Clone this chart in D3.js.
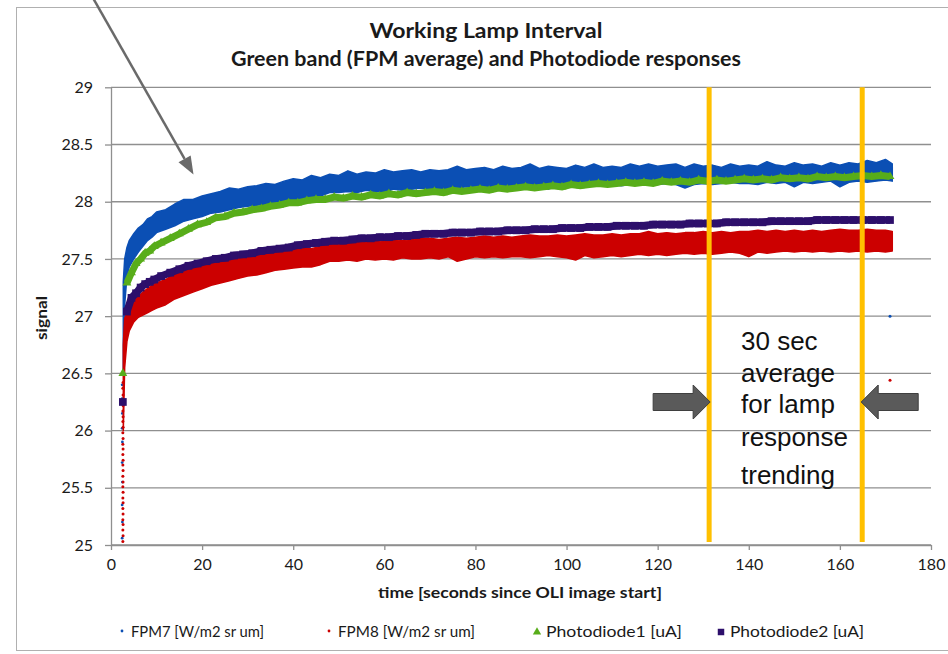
<!DOCTYPE html>
<html><head><meta charset="utf-8">
<script src="https://cdn.jsdelivr.net/npm/d3@7"></script>
<style>body{margin:0;background:#fff}svg{display:block}</style>
</head><body><svg id="c" width="948" height="654"></svg>
<script>
// ---------- data ----------
const titleLines = ["Working Lamp Interval", "Green band (FPM average) and Photodiode responses"];
const xTicks = [0,20,40,60,80,100,120,140,160,180];
const xTickLabels = ["0","20","40","60","80","100","120","140","160","180"];
const yTicks = [25,25.5,26,26.5,27,27.5,28,28.5,29];
const yTickLabels = ["25","25.5","26","26.5","27","27.5","28","28.5","29"];
const seriesNames = ["FPM7 [W/m2 sr um]","FPM8 [W/m2 sr um]","Photodiode1 [uA]","Photodiode2 [uA]"];

// FPM detectors: noisy dense samples, read as lower / upper envelope of the cloud
const fpmTime = [2.7,3,3.5,4,5,6,7,8,9,
 10,12,14,16,18,20,22,24,26,28,30,32,34,36,38,40,42,44,46,48,50,52,54,56,58,60,62,64,66,68,
 70,72,74,76,78,80,82,84,86,88,90,92,94,96,98,100,102,104,106,108,110,112,114,116,118,120,122,124,126,128,
 130,132,134,136,138,140,142,144,146,148,150,152,154,156,158,160,162,164,166,168,170,171.5];
const fpm7Hi = [27.30,27.50,27.60,27.66,27.72,27.77,27.80,27.85,27.87,
 27.91,27.93,27.98,28.02,28.02,28.05,28.07,28.09,28.12,28.11,
 28.13,28.14,28.16,28.15,28.18,28.20,28.19,28.23,28.21,28.24,
 28.23,28.27,28.24,28.26,28.25,28.28,28.26,28.27,28.28,28.26,
 28.28,28.27,28.28,28.31,28.28,28.29,28.30,28.28,28.31,28.29,
 28.30,28.33,28.29,28.31,28.30,28.29,28.32,28.30,28.33,28.30,
 28.31,28.30,28.33,28.31,28.33,28.31,28.32,28.33,28.30,28.33,
 28.31,28.32,28.30,28.33,28.31,28.32,28.31,28.35,28.32,28.31,
 28.34,28.32,28.33,28.31,28.34,28.32,28.34,28.33,28.36,28.34,
 28.37,28.33];
const fpm7Lo = [26.50,27.10,27.35,27.43,27.50,27.56,27.61,27.66,27.69,
 27.73,27.76,27.79,27.83,27.85,27.87,27.90,27.91,27.93,27.95,
 27.96,27.97,27.98,27.99,28.00,28.01,28.03,28.04,28.05,28.08,
 28.08,28.09,28.08,28.10,28.09,28.08,28.11,28.10,28.11,28.12,
 28.11,28.12,28.11,28.12,28.13,28.12,28.13,28.12,28.13,28.14,
 28.13,28.14,28.13,28.11,28.14,28.13,28.15,28.14,28.15,28.14,
 28.15,28.14,28.15,28.16,28.15,28.15,28.16,28.15,28.12,28.15,
 28.16,28.15,28.16,28.17,28.16,28.16,28.15,28.17,28.16,28.17,
 28.13,28.17,28.16,28.17,28.18,28.13,28.17,28.18,28.17,28.18,
 28.19,28.18];
const fpm8Hi = [26.75,26.98,27.03,27.08,27.14,27.17,27.21,27.24,27.27,
 27.29,27.32,27.37,27.40,27.42,27.44,27.46,27.48,27.50,27.51,
 27.53,27.54,27.55,27.56,27.57,27.58,27.59,27.59,27.61,27.63,
 27.64,27.64,27.65,27.66,27.65,27.66,27.67,27.66,27.67,27.68,
 27.68,27.67,27.68,27.69,27.68,27.69,27.70,27.69,27.70,27.69,
 27.70,27.71,27.70,27.70,27.71,27.70,27.71,27.72,27.71,27.71,
 27.72,27.71,27.72,27.72,27.74,27.72,27.73,27.72,27.73,27.73,
 27.74,27.73,27.74,27.73,27.74,27.74,27.75,27.74,27.75,27.74,
 27.75,27.74,27.75,27.74,27.75,27.76,27.75,27.75,27.76,27.75,
 27.75,27.74];
const fpm8Lo = [26.00,26.55,26.78,26.87,26.95,26.99,27.01,27.03,27.05,
 27.07,27.10,27.15,27.18,27.21,27.24,27.27,27.29,27.31,27.33,
 27.35,27.36,27.38,27.40,27.41,27.42,27.43,27.43,27.45,27.48,
 27.48,27.49,27.48,27.50,27.49,27.50,27.49,27.51,27.50,27.50,
 27.51,27.50,27.52,27.48,27.50,27.52,27.51,27.52,27.51,27.52,
 27.52,27.51,27.52,27.53,27.52,27.51,27.49,27.53,27.51,27.52,
 27.53,27.52,27.53,27.54,27.53,27.54,27.53,27.54,27.55,27.54,
 27.55,27.54,27.55,27.56,27.55,27.52,27.56,27.55,27.56,27.57,
 27.56,27.57,27.56,27.57,27.56,27.57,27.56,27.57,27.56,27.57,
 27.56,27.57];
// lamp turn-on transient samples (FPM)
const fpm7StartTime = [2.45,2.45,2.5,2.45,2.5,2.45,2.5,2.45,2.5,2.45];
const fpm7StartVal  = [26.40,26.28,26.15,26.02,25.90,25.72,25.55,25.35,25.20,25.06];
const fpm8StartTime = [2.65,2.6,2.65,2.6,2.65,2.6,2.65,2.6,2.65,2.6,2.65,2.6,2.65,2.6,2.65,2.6,2.65,2.6,2.65,2.6,2.65,2.6,2.65,2.6,2.65,2.6,2.65,2.6,2.65,2.6];
const fpm8StartVal  = [26.42,26.37,26.31,26.27,26.22,26.17,26.12,26.08,26.03,25.98,25.93,25.88,25.84,25.79,25.74,25.70,25.65,25.60,25.55,25.51,25.46,25.41,25.37,25.32,25.27,25.22,25.18,25.13,25.08,25.03];
// end-of-record outliers
const fpm7OutTime = [171]; const fpm7OutVal = [27.00];
const fpm8OutTime = [171]; const fpm8OutVal = [26.44];

// Photodiodes
const pdTime = [2.6,3.5,4.5,5.5,6.5,7.5,8.5,9.5,
 11,13,15,17,19,21,23,25,27,29,31,33,35,37,39,41,43,45,47,49,51,53,55,57,59,61,63,65,67,69,
 71,73,75,77,79,81,83,85,87,89,91,93,95,97,99,101,103,105,107,109,111,113,115,117,119,121,123,125,127,129,
 131,133,135,137,139,141,143,145,147,149,151,153,155,157,159,161,163,165,167,169,171];
const pd1 = [26.50,27.29,27.38,27.46,27.50,27.55,27.57,27.61,
 27.64,27.68,27.72,27.76,27.80,27.82,27.86,27.87,27.90,27.91,
 27.93,27.94,27.96,27.97,27.99,27.99,28.01,28.02,28.02,28.04,
 28.03,28.05,28.04,28.06,28.05,28.07,28.06,28.08,28.07,28.08,
 28.09,28.08,28.10,28.09,28.10,28.11,28.10,28.12,28.11,28.12,
 28.13,28.12,28.13,28.14,28.13,28.15,28.14,28.15,28.16,28.15,
 28.16,28.17,28.16,28.17,28.16,28.18,28.17,28.18,28.17,28.19,
 28.18,28.19,28.18,28.19,28.20,28.19,28.20,28.19,28.21,28.20,
 28.21,28.20,28.22,28.21,28.22,28.21,28.22,28.23,28.22,28.23,
 28.22];
const pd2 = [26.25,27.04,27.16,27.20,27.25,27.28,27.30,27.32,
 27.35,27.38,27.41,27.44,27.46,27.48,27.50,27.51,27.53,27.54,
 27.55,27.57,27.58,27.59,27.60,27.62,27.63,27.64,27.65,27.66,
 27.66,27.67,27.68,27.68,27.69,27.69,27.70,27.70,27.71,27.72,
 27.72,27.72,27.73,27.73,27.73,27.74,27.74,27.74,27.75,27.75,
 27.75,27.76,27.76,27.76,27.77,27.77,27.77,27.78,27.78,27.78,
 27.79,27.79,27.79,27.79,27.80,27.80,27.80,27.80,27.81,27.81,
 27.81,27.81,27.82,27.82,27.82,27.82,27.82,27.83,27.83,27.83,
 27.83,27.83,27.84,27.84,27.84,27.84,27.84,27.84,27.84,27.84,
 27.84];

// annotation: 30 s averaging window (seconds)
const avgWindow = [131.3, 164.9];
const noteLines = ["30 sec","average","for lamp","response","trending"];

// ---------- styles ----------
const C = {fpm7:"#0b4fb4", fpm8:"#cc0000", pd1:"#58ad1a", pd2:"#2d0f6b",
  grid:"#8f8f8f", text:"#1a1a1a", orange:"#ffc000", arrow:"#5a5a5a"};
const FONT = "Lato, 'Open Sans', sans-serif";

const svg = d3.select("#c");
const x = d3.scaleLinear().domain([0,180]).range([111,931]);
const y = d3.scaleLinear().domain([25,29]).range([545,87.3]);

// outer chart border
svg.append("rect").attr("x",16.5).attr("y",7.5).attr("width",960).attr("height",643)
  .attr("fill","none").attr("stroke","#b0b0b0").attr("stroke-width",1);

// title
const titleW = [233, 510];
svg.append("g").selectAll("text").data(titleLines).join("text")
  .attr("x",486).attr("y",(d,i)=>38+i*28).attr("text-anchor","middle")
  .attr("font-family",FONT).attr("font-weight","bold").attr("font-size",20.5)
  .attr("textLength",(d,i)=>titleW[i]).attr("lengthAdjust","spacingAndGlyphs")
  .attr("fill",C.text).text(d=>d);

// gridlines
svg.append("g").selectAll("line").data(yTicks).join("line")
  .attr("x1",x(0)).attr("x2",x(180)).attr("y1",d=>y(d)).attr("y2",d=>y(d))
  .attr("stroke",C.grid).attr("stroke-width",1.3);

// axes
const yAxis = d3.axisLeft(y).tickValues(yTicks).tickSize(6).tickSizeOuter(0).tickPadding(12)
  .tickFormat((d,i)=>yTickLabels[i]);
const gy = svg.append("g").attr("transform",`translate(${x(0)},0)`).call(yAxis);
const xAxis = d3.axisBottom(x).tickValues(xTicks).tickSize(5).tickSizeOuter(0).tickPadding(9)
  .tickFormat((d,i)=>xTickLabels[i]);
const gx = svg.append("g").attr("transform",`translate(0,${y(25)})`).call(xAxis);
[gx,gy].forEach(g=>{
  g.selectAll("path,line").attr("stroke",C.grid).attr("stroke-width",1.3);
  g.selectAll("text").attr("font-family",FONT).attr("font-size",16).attr("fill",C.text);
});

// axis titles
svg.append("text").attr("transform","translate(47,318) rotate(-90)").attr("text-anchor","middle")
  .attr("font-family",FONT).attr("font-weight","bold").attr("font-size",15).attr("fill",C.text)
  .attr("textLength",44).attr("lengthAdjust","spacingAndGlyphs").text("signal");
svg.append("text").attr("x",520).attr("y",598).attr("text-anchor","middle")
  .attr("font-family",FONT).attr("font-weight","bold").attr("font-size",16).attr("fill",C.text)
  .attr("textLength",284).attr("lengthAdjust","spacingAndGlyphs")
  .text("time [seconds since OLI image start]");

// ---------- series ----------
const plot = svg.append("g");
const band = d3.area().x(d=>x(d.t)).y0(d=>y(d.lo)).y1(d=>y(d.hi));
const fpm7 = fpmTime.map((t,i)=>({t, lo:fpm7Lo[i], hi:fpm7Hi[i]}));
const fpm8 = fpmTime.map((t,i)=>({t, lo:fpm8Lo[i], hi:fpm8Hi[i]}));

function dots(ts, vs, col, r){
  plot.append("g").selectAll("circle").data(ts.map((t,i)=>({t,v:vs[i]}))).join("circle")
    .attr("cx",d=>x(d.t)).attr("cy",d=>y(d.v)).attr("r",r).attr("fill",col);
}

plot.append("path").datum(fpm7).attr("d",band).attr("fill",C.fpm7)
  .attr("stroke",C.fpm7).attr("stroke-width",1.5).attr("stroke-linejoin","round");
dots(fpm7StartTime, fpm7StartVal, C.fpm7, 1.4);
dots(fpm7OutTime, fpm7OutVal, C.fpm7, 1.5);

plot.append("path").datum(fpm8).attr("d",band).attr("fill",C.fpm8)
  .attr("stroke",C.fpm8).attr("stroke-width",1.5).attr("stroke-linejoin","round");
dots(fpm8StartTime, fpm8StartVal, C.fpm8, 1.5);
dots(fpm8OutTime, fpm8OutVal, C.fpm8, 1.5);

const pdLine = d3.line().x(d=>x(d.t)).y(d=>y(d.v));
const pd1Data = pdTime.map((t,i)=>({t,v:pd1[i]}));
const pd2Data = pdTime.map((t,i)=>({t,v:pd2[i]}));

plot.append("path").datum(pd1Data.slice(1)).attr("d",pdLine).attr("fill","none")
  .attr("stroke",C.pd1).attr("stroke-width",7);
plot.append("g").selectAll("path").data(pd1Data).join("path")
  .attr("transform",d=>`translate(${x(d.t)},${y(d.v)})`)
  .attr("d",d3.symbol(d3.symbolTriangle,34)).attr("fill",C.pd1);

plot.append("path").datum(pd2Data.slice(1)).attr("d",pdLine).attr("fill","none")
  .attr("stroke",C.pd2).attr("stroke-width",7.5);
plot.append("g").selectAll("path").data(pd2Data).join("path")
  .attr("transform",d=>`translate(${x(d.t)},${y(d.v)})`)
  .attr("d",d3.symbol(d3.symbolSquare,60)).attr("fill",C.pd2);

// ---------- annotations ----------
svg.append("g").selectAll("line").data(avgWindow).join("line")
  .attr("x1",d=>x(d)).attr("x2",d=>x(d)).attr("y1",y(29)).attr("y2",y(25)-3)
  .attr("stroke",C.orange).attr("stroke-width",5);

function blockArrow(tip, dir, cy){
  const p = [[0,0],[-17,-17],[-17,-8.5],[-57,-8.5],[-57,8.5],[-17,8.5],[-17,17]]
    .map(([dx,dy])=>[tip+dir*dx, cy+dy]);
  svg.append("polygon").attr("points",p.map(q=>q.join(",")).join(" "))
    .attr("fill",C.arrow).attr("stroke","#3f3f3f").attr("stroke-width",1);
}
blockArrow(x(avgWindow[0])+1, 1, 402);
blockArrow(x(avgWindow[1])-1, -1, 402);

svg.append("g").selectAll("text").data(noteLines).join("text")
  .attr("x",741).attr("y",(d,i)=>[350,382,413,446,484][i])
  .attr("font-family","'Liberation Sans', Arial, sans-serif").attr("font-size",26)
  .attr("fill","#111").text(d=>d);

// pointer arrow at top-left
(function(){
  const tip=[193.5,174.5], start=[93,-2];
  const dx=tip[0]-start[0], dy=tip[1]-start[1], L=Math.hypot(dx,dy);
  const ux=dx/L, uy=dy/L, hl=18, hw=7;
  const bx=tip[0]-ux*hl, by=tip[1]-uy*hl;
  svg.append("line").attr("x1",start[0]).attr("y1",start[1]).attr("x2",bx).attr("y2",by)
    .attr("stroke","#6a6a6a").attr("stroke-width",2.5);
  svg.append("polygon").attr("points",
    [[tip[0],tip[1]],[bx-uy*hw,by+ux*hw],[bx+uy*hw,by-ux*hw]].map(q=>q.join(",")).join(" "))
    .attr("fill","#6a6a6a");
})();

// ---------- legend ----------
const legX = [122,329,537,721];
const legW = [133,137,136,134];
const lg = svg.append("g");
seriesNames.forEach((name,i)=>{
  const cx = legX[i], cy = 632;
  if(i<2){
    lg.append("circle").attr("cx",cx).attr("cy",cy-1).attr("r",1.4).attr("fill",i===0?C.fpm7:C.fpm8);
  } else if(i===2){
    lg.append("path").attr("transform",`translate(${cx},${cy})`).attr("d",d3.symbol(d3.symbolTriangle,30)).attr("fill",C.pd1);
  } else {
    lg.append("path").attr("transform",`translate(${cx},${cy})`).attr("d",d3.symbol(d3.symbolSquare,42)).attr("fill",C.pd2);
  }
  lg.append("text").attr("x",cx+9).attr("y",cy+5).attr("font-family",FONT).attr("font-size",14.5)
    .attr("textLength",legW[i]).attr("lengthAdjust","spacingAndGlyphs")
    .attr("fill",C.text).text(name);
});
</script></body></html>
